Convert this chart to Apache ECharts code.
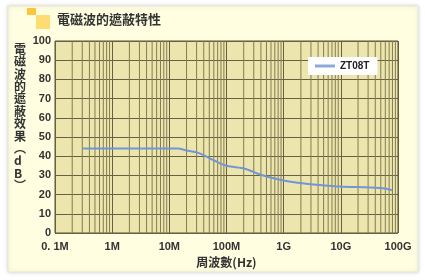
<!DOCTYPE html>
<html><head><meta charset="utf-8">
<script src="https://cdn.jsdelivr.net/npm/echarts@6/dist/echarts.min.js"></script>
<style>html,body{margin:0;padding:0;background:#fff}#c{width:425px;height:280px}</style>
</head><body><div id="c"></div>
<script>
// Frequency in MHz, shielding effectiveness in dB
const freqMHz = [0.31, 1, 3, 10, 14, 20, 34, 63, 100, 210, 385, 860, 1900, 4300, 9600, 32000, 59000, 78000];
const dbValues = [44, 44, 44, 44, 44, 43, 41.5, 37.5, 35, 33.5, 30.5, 27.7, 26, 25, 24.2, 23.7, 23.2, 22.3];
const seriesName = 'ZT08T';
const xTickLabels = {0.1: '0. 1M', 1: '1M', 10: '10M', 100: '100M', 1000: '1G', 10000: '10G', 100000: '100G'};
const decades = [0.1, 1, 10, 100, 1000, 10000];
const minorMultipliers = [2, 3, 4, 5, 6, 7, 8, 9];
const title = '電磁波的遮蔽特性';
const yName = ['電','磁','波','的','遮','蔽','效','果','︵','d','B','︶'];
const xName = '周波數(Hz)';

// minor (2..9 per decade) grid lines, drawn through the log axis as a broken line series
const minorGrid = [];
decades.forEach(d => minorMultipliers.forEach(m => {
  const f = +(d * m).toPrecision(3);
  minorGrid.push([f, 0], [f, 100], [f, '-']);
}));

const font = "'Liberation Sans Narrow','Liberation Sans',Arial,sans-serif";
const chart = echarts.init(document.getElementById('c'), null, {renderer: 'canvas'});
chart.setOption({
  animation: false,
  backgroundColor: '#ffffff',
  graphic: [
    {type: 'rect', z: -10, shape: {x: 8, y: 6, width: 410, height: 266},
     style: {fill: '#fffee0', stroke: '#e4e4dc', lineWidth: 1, shadowBlur: 4, shadowColor: 'rgba(0,0,0,0.15)'}},
    {type: 'rect', shape: {x: 27, y: 8, width: 9, height: 7}, style: {fill: '#fcc53c'}},
    {type: 'rect', shape: {x: 36, y: 15, width: 14, height: 14}, style: {fill: '#fddd72'}},
    {type: 'text', left: 57, top: 13, style: {text: title, fill: '#333', font: "bold 13px 'Noto Sans CJK TC','Noto Sans CJK JP',sans-serif"}},
    {type: 'text', left: 14, top: 43, style: {text: yName.join('\n'), fill: '#333', lineHeight: 12.4, align: 'center', width: 14,
      font: "bold 12px 'Noto Sans CJK TC','Noto Sans CJK JP',sans-serif"}}
  ],
  grid: {left: 55, right: 27, top: 41, bottom: 47, show: true, backgroundColor: '#ece6ae', borderColor: '#5a5238', borderWidth: 1},
  legend: {
    data: [seriesName], left: 308, top: 57, backgroundColor: '#ffffff', padding: [4, 8, 4, 7],
    itemWidth: 20, itemHeight: 3, icon: 'rect', itemGap: 0,
    textStyle: {fontSize: 10, fontWeight: 'bold', color: '#222', fontFamily: font}
  },
  xAxis: {
    type: 'log', logBase: 10, min: 0.1, max: 100000,
    name: xName, nameLocation: 'middle', nameGap: 23,
    nameTextStyle: {fontSize: 12, fontWeight: 'bold', color: '#333', fontFamily: "'Noto Sans CJK TC','Noto Sans CJK JP',sans-serif"},
    axisLine: {show: false}, axisTick: {show: false},
    axisLabel: {margin: 8, fontSize: 11, fontWeight: 'bold', color: '#333', fontFamily: font,
      formatter: v => xTickLabels[+(+v).toPrecision(3)] || ''},
    splitLine: {show: true, lineStyle: {color: '#686040', width: 1}}
  },
  yAxis: {
    type: 'value', min: 0, max: 100, interval: 10,
    axisLine: {show: false}, axisTick: {show: false},
    axisLabel: {margin: 4, fontSize: 11, fontWeight: 'bold', color: '#333', fontFamily: font},
    splitLine: {show: true, lineStyle: {color: '#686040', width: 1}}
  },
  series: [{
    name: 'minorGrid', type: 'line', silent: true, showSymbol: false, symbol: 'none', connectNulls: false,
    data: minorGrid, lineStyle: {color: '#837b50', width: 1}, z: 1
  }, {
    name: seriesName, type: 'line', smooth: 0.3, showSymbol: false, symbol: 'none',
    data: freqMHz.map((f, i) => [f, dbValues[i]]),
    lineStyle: {color: '#7295d6', width: 2}, itemStyle: {color: '#8ea8dc'}, z: 5
  }]
});
</script></body></html>
